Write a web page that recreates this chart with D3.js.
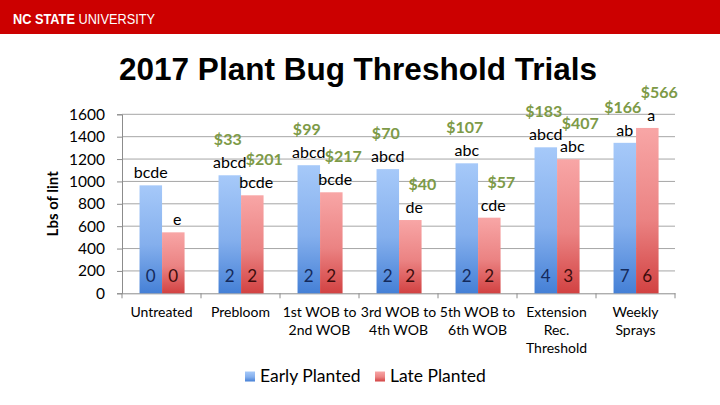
<!DOCTYPE html>
<html>
<head>
<meta charset="utf-8">
<script src="https://cdn.jsdelivr.net/npm/d3@7"></script>
<style>
    body { margin: 0; background: #fff; }
    svg { display: block; }
    .tick text { font-family: Lato, "Noto Sans", sans-serif; }
</style>
</head>
<body>
<script>
(function() {

    //////////////////
    // chart data   //
    //////////////////
    var categories = [
        ["Untreated"],
        ["Prebloom"],
        ["1st WOB to", "2nd WOB"],
        ["3rd WOB to", "4th WOB"],
        ["5th WOB to", "6th WOB"],
        ["Extension", "Rec.", "Threshold"],
        ["Weekly", "Sprays"]
    ];
    var series = ["Early Planted", "Late Planted"];

    var earlyLint = [965, 1055, 1145, 1110, 1162, 1305, 1345];
    var lateLint = [545, 876, 903, 655, 676, 1198, 1478];

    var earlyLetters = ["bcde", "abcd", "abcd", "abcd", "abc", "abcd", "ab"];
    var lateLetters = ["e", "bcde", "bcde", "de", "cde", "abc", "a"];

    var earlyProfit = ["", "$33", "$99", "$70", "$107", "$183", "$166"];
    var lateProfit = ["", "$201", "$217", "$40", "$57", "$407", "$566"];

    var earlySprays = [0, 2, 2, 2, 2, 4, 7];
    var lateSprays = [0, 2, 2, 2, 2, 3, 6];

    var yTicks = [0, 200, 400, 600, 800, 1000, 1200, 1400, 1600];

    // frame
    var width = 720,
        height = 405,
        plotLeft = 122,
        plotRight = 675,
        plotTop = 114.3,
        plotBottom = 293.3;

    var bodyFont = "Lato, 'Noto Sans', sans-serif";

    var svg = d3.select("body")
        .append("svg")
        .attr("width", width)
        .attr("height", height);

    // gradients for the bars
    var defs = svg.append("defs");
    var grads = [
        {id: "gradEarly", top: "#a6c9f9", bottom: "#4580d6"},
        {id: "gradLate", top: "#f8a6a6", bottom: "#d24242"}
    ];
    grads.forEach(function(g) {
        var lg = defs.append("linearGradient")
            .attr("id", g.id)
            .attr("x1", 0).attr("y1", 0)
            .attr("x2", 0).attr("y2", 1);
        lg.append("stop").attr("offset", "0%").attr("stop-color", g.top);
        lg.append("stop").attr("offset", "55%").attr("stop-color", d3.interpolateRgb(g.top, g.bottom)(0.35));
        lg.append("stop").attr("offset", "100%").attr("stop-color", g.bottom);
    });

    // header bar
    svg.append("rect")
        .attr("x", 0).attr("y", 0)
        .attr("width", width).attr("height", 34)
        .attr("fill", "#cc0000");

    var header = svg.append("text")
        .attr("x", 13)
        .attr("y", 23.5)
        .attr("fill", "#fff")
        .attr("textLength", 142)
        .attr("lengthAdjust", "spacingAndGlyphs")
        .style("font-family", "'Liberation Sans', Arial, sans-serif")
        .style("font-size", "14px");
    header.append("tspan").attr("font-weight", "bold").text("NC STATE");
    header.append("tspan").text(" UNIVERSITY");

    // title
    svg.append("text")
        .attr("x", 358)
        .attr("y", 79.5)
        .attr("text-anchor", "middle")
        .style("font-family", "'Liberation Sans', Arial, sans-serif")
        .style("font-weight", "bold")
        .style("font-size", "31.5px")
        .attr("fill", "#000")
        .text("2017 Plant Bug Threshold Trials");

    // scales
    var x0 = d3.scaleBand()
        .domain(d3.range(categories.length))
        .range([plotLeft, plotRight]);

    var bw = x0.bandwidth();
    var x1 = d3.scaleBand()
        .domain(series)
        .range([bw * 0.222, bw * 0.792]);

    var y = d3.scaleLinear()
        .domain([0, 1600])
        .range([plotBottom, plotTop]);

    // gridlines
    svg.append("g")
        .selectAll("line")
        .data(yTicks.slice(1))
        .enter()
        .append("line")
        .attr("x1", plotLeft)
        .attr("x2", plotRight)
        .attr("y1", function(d) { return y(d); })
        .attr("y2", function(d) { return y(d); })
        .attr("stroke", "#a6a6a6")
        .attr("stroke-width", 1);

    // y axis
    var yAxis = d3.axisLeft(y)
        .tickValues(yTicks)
        .tickFormat(d3.format("d"))
        .tickSize(5)
        .tickPadding(12);

    var yg = svg.append("g")
        .attr("transform", "translate(" + plotLeft + ",0)")
        .call(yAxis);
    yg.select(".domain").attr("stroke", "#8c8c8c");
    yg.selectAll(".tick line").attr("stroke", "#8c8c8c");
    yg.selectAll(".tick text")
        .style("font-size", "15.5px")
        .attr("fill", "#000");

    // y label
    svg.append("text")
        .attr("transform", "translate(58," + ((plotTop + plotBottom) / 2) + ") rotate(-90)")
        .attr("text-anchor", "middle")
        .style("font-family", bodyFont)
        .style("font-weight", "bold")
        .style("font-size", "15px")
        .attr("fill", "#000")
        .text("Lbs of lint");

    // x axis
    var xAxis = d3.axisBottom(x0)
        .tickSize(0)
        .tickFormat("");
    var xg = svg.append("g")
        .attr("transform", "translate(0," + plotBottom + ")")
        .call(xAxis);
    xg.select(".domain").attr("stroke", "#8c8c8c");

    // category ticks on the boundaries
    xg.selectAll(".bound")
        .data(d3.range(categories.length + 1))
        .enter()
        .append("line")
        .attr("class", "bound")
        .attr("x1", function(i) { return plotLeft + i * bw; })
        .attr("x2", function(i) { return plotLeft + i * bw; })
        .attr("y1", 0)
        .attr("y2", 5)
        .attr("stroke", "#8c8c8c");

    // category labels
    var catLabels = svg.append("g")
        .selectAll("text")
        .data(categories)
        .enter()
        .append("text")
        .attr("text-anchor", "middle")
        .style("font-family", bodyFont)
        .style("font-size", "14px")
        .attr("fill", "#000");
    catLabels.each(function(lines, i) {
        var t = d3.select(this);
        lines.forEach(function(line, j) {
            t.append("tspan")
                .attr("x", x0(i) + bw / 2)
                .attr("y", plotBottom + 23.5 + j * 18.3)
                .text(line);
        });
    });

    // bar data rows
    var rows = categories.map(function(c, i) {
        return [
            {s: series[0], i: i, v: earlyLint[i], letter: earlyLetters[i], profit: earlyProfit[i], n: earlySprays[i], grad: "gradEarly", numColor: "#142a5c", dx: -2},
            {s: series[1], i: i, v: lateLint[i], letter: lateLetters[i], profit: lateProfit[i], n: lateSprays[i], grad: "gradLate", numColor: "#3d0c0c", dx: 12}
        ];
    });

    var groups = svg.append("g")
        .selectAll(".group")
        .data(rows)
        .enter()
        .append("g")
        .attr("class", "group")
        .attr("transform", function(d, i) { return "translate(" + x0(i) + ",0)"; });

    var barW = x1.bandwidth();

    groups.selectAll("rect")
        .data(function(d) { return d; })
        .enter()
        .append("rect")
        .attr("x", function(d) { return x1(d.s); })
        .attr("y", function(d) { return y(d.v); })
        .attr("width", barW)
        .attr("height", function(d) { return plotBottom - y(d.v); })
        .attr("fill", function(d) { return "url(#" + d.grad + ")"; });

    // significance letters
    groups.selectAll(".letter")
        .data(function(d) { return d; })
        .enter()
        .append("text")
        .attr("class", "letter")
        .attr("x", function(d) { return x1(d.s) + barW / 2 + (d.s === series[1] ? 4 : 0); })
        .attr("y", function(d) { return y(d.v) - 7; })
        .attr("text-anchor", "middle")
        .style("font-family", bodyFont)
        .style("font-size", "16px")
        .attr("fill", "#000")
        .text(function(d) { return d.letter; });

    // profit labels
    groups.selectAll(".profit")
        .data(function(d) { return d; })
        .enter()
        .append("text")
        .attr("class", "profit")
        .attr("x", function(d) { return x1(d.s) + barW / 2 + d.dx; })
        .attr("y", function(d) { return y(d.v) - 30; })
        .attr("text-anchor", "middle")
        .style("font-family", bodyFont)
        .style("font-weight", "bold")
        .style("font-size", "16px")
        .attr("fill", "#7d9a47")
        .text(function(d) { return d.profit; });

    // number of sprays inside bars
    groups.selectAll(".sprays")
        .data(function(d) { return d; })
        .enter()
        .append("text")
        .attr("class", "sprays")
        .attr("x", function(d) { return x1(d.s) + barW / 2; })
        .attr("y", plotBottom - 11)
        .attr("text-anchor", "middle")
        .style("font-family", bodyFont)
        .style("font-size", "17px")
        .attr("fill", function(d) { return d.numColor; })
        .text(function(d) { return d.n; });

    // legend
    var legendItems = [
        {label: series[0], grad: "gradEarly", x: 245},
        {label: series[1], grad: "gradLate", x: 375}
    ];
    var legend = svg.append("g")
        .selectAll("g")
        .data(legendItems)
        .enter()
        .append("g")
        .attr("transform", function(d) { return "translate(" + d.x + ",371.5)"; });
    legend.append("rect")
        .attr("width", 10)
        .attr("height", 10)
        .attr("fill", function(d) { return "url(#" + d.grad + ")"; });
    legend.append("text")
        .attr("x", 15)
        .attr("y", 10)
        .style("font-family", bodyFont)
        .style("font-size", "17.5px")
        .attr("fill", "#000")
        .text(function(d) { return d.label; });

})();
</script>
</body>
</html>
